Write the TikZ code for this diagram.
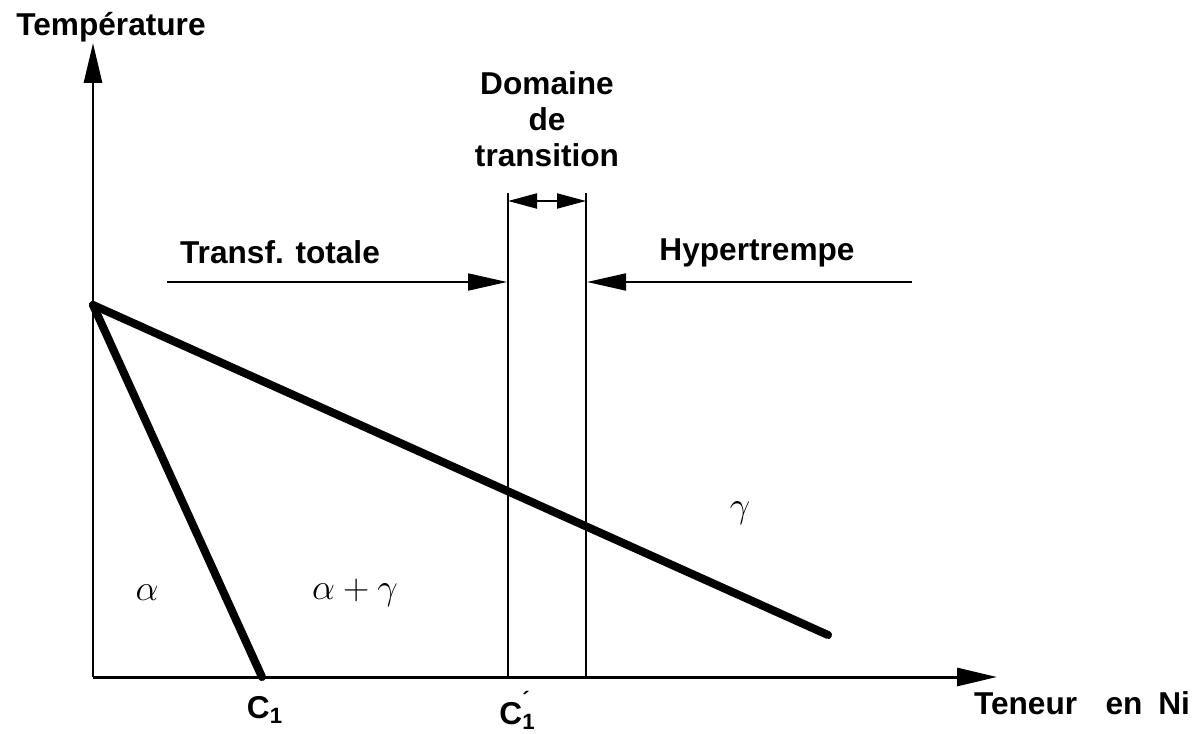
\documentclass[tikz,border=0pt]{standalone}
\usepackage{fontspec}
\setmainfont{Liberation Sans}
\usetikzlibrary{arrows.meta}
\tikzset{
  axis/.style={line width=1.7pt,-{Triangle[length=0.8cm,width=0.36cm]}},
  phase/.style={line width=4.6pt,line cap=round},
  bound/.style={line width=1.6pt},
  rangearrow/.style={line width=1.1pt,-{Triangle[length=0.78cm,width=0.34cm]}},
  spanarrow/.style={line width=1.1pt,{Triangle[length=0.58cm,width=0.3cm]}-{Triangle[length=0.58cm,width=0.3cm]}},
  lbl/.style={font=\fontsize{18}{20.5}\selectfont\bfseries,inner sep=0pt},
  greek/.style={font=\fontsize{22}{24}\selectfont,inner sep=0pt}
}

\begin{document}
\begin{tikzpicture}[x=0.02cm,y=-0.02cm]
  \useasboundingbox (0,0) rectangle (1202,733);
  % Axes
  \coordinate (O) at (93,677);
  \coordinate (ytip) at (93,43);
  \coordinate (xtip) at (997,677);
  \draw[axis] (O) -- (ytip);
  \draw[axis] (O) -- (xtip);
  \node[lbl] (temp) at (111,27) {Température};
  \node[lbl] (teneur) at (1082,703) {Teneur\hspace{0.9em}en\hspace{0.5em}Ni};
  % Phase boundaries
  \coordinate (apex) at (93,305);
  \coordinate (c1) at (262,677);
  \coordinate (gend) at (828,635);
  \draw[phase] (apex) -- (c1);
  \draw[phase] (apex) -- (gend);
  \node[lbl] (c1lbl) at (265,710) {C\textsubscript{1}};
  \node[lbl] (c1plbl) at (515,710) {C\rlap{\textsubscript{1}}\raisebox{0.2em}{\textsuperscript{´}}};
  % Transition domain
  \coordinate (v1b) at (508,677);
  \coordinate (v1t) at (508,193);
  \coordinate (v2b) at (586,677);
  \coordinate (v2t) at (586,193);
  \draw[bound] (v1b) -- (v1t);
  \draw[bound] (v2b) -- (v2t);
  \coordinate (d1) at (508,201);
  \coordinate (d2) at (586,201);
  \draw[spanarrow] (d1) -- (d2);
  \node[lbl,align=center] (dom) at (547,119) {Domaine\\de\\transition};
  % Ranges
  \coordinate (tl) at (167,282);
  \coordinate (tr) at (507,282);
  \coordinate (hr) at (912,282);
  \coordinate (hl) at (587,282);
  \draw[rangearrow] (tl) -- (tr);
  \draw[rangearrow] (hr) -- (hl);
  \node[lbl] (transf) at (280,252) {Transf. totale};
  \node[lbl] (hyper) at (757,253) {Hypertrempe};
  % Phases
  \node[greek] (alpha) at (147,593) {$\alpha$};
  \node[greek] (alphagamma) at (355,593) {$\alpha + \gamma$};
  \node[greek] (gamma) at (740,513) {$\gamma$};
\end{tikzpicture}
\end{document}
